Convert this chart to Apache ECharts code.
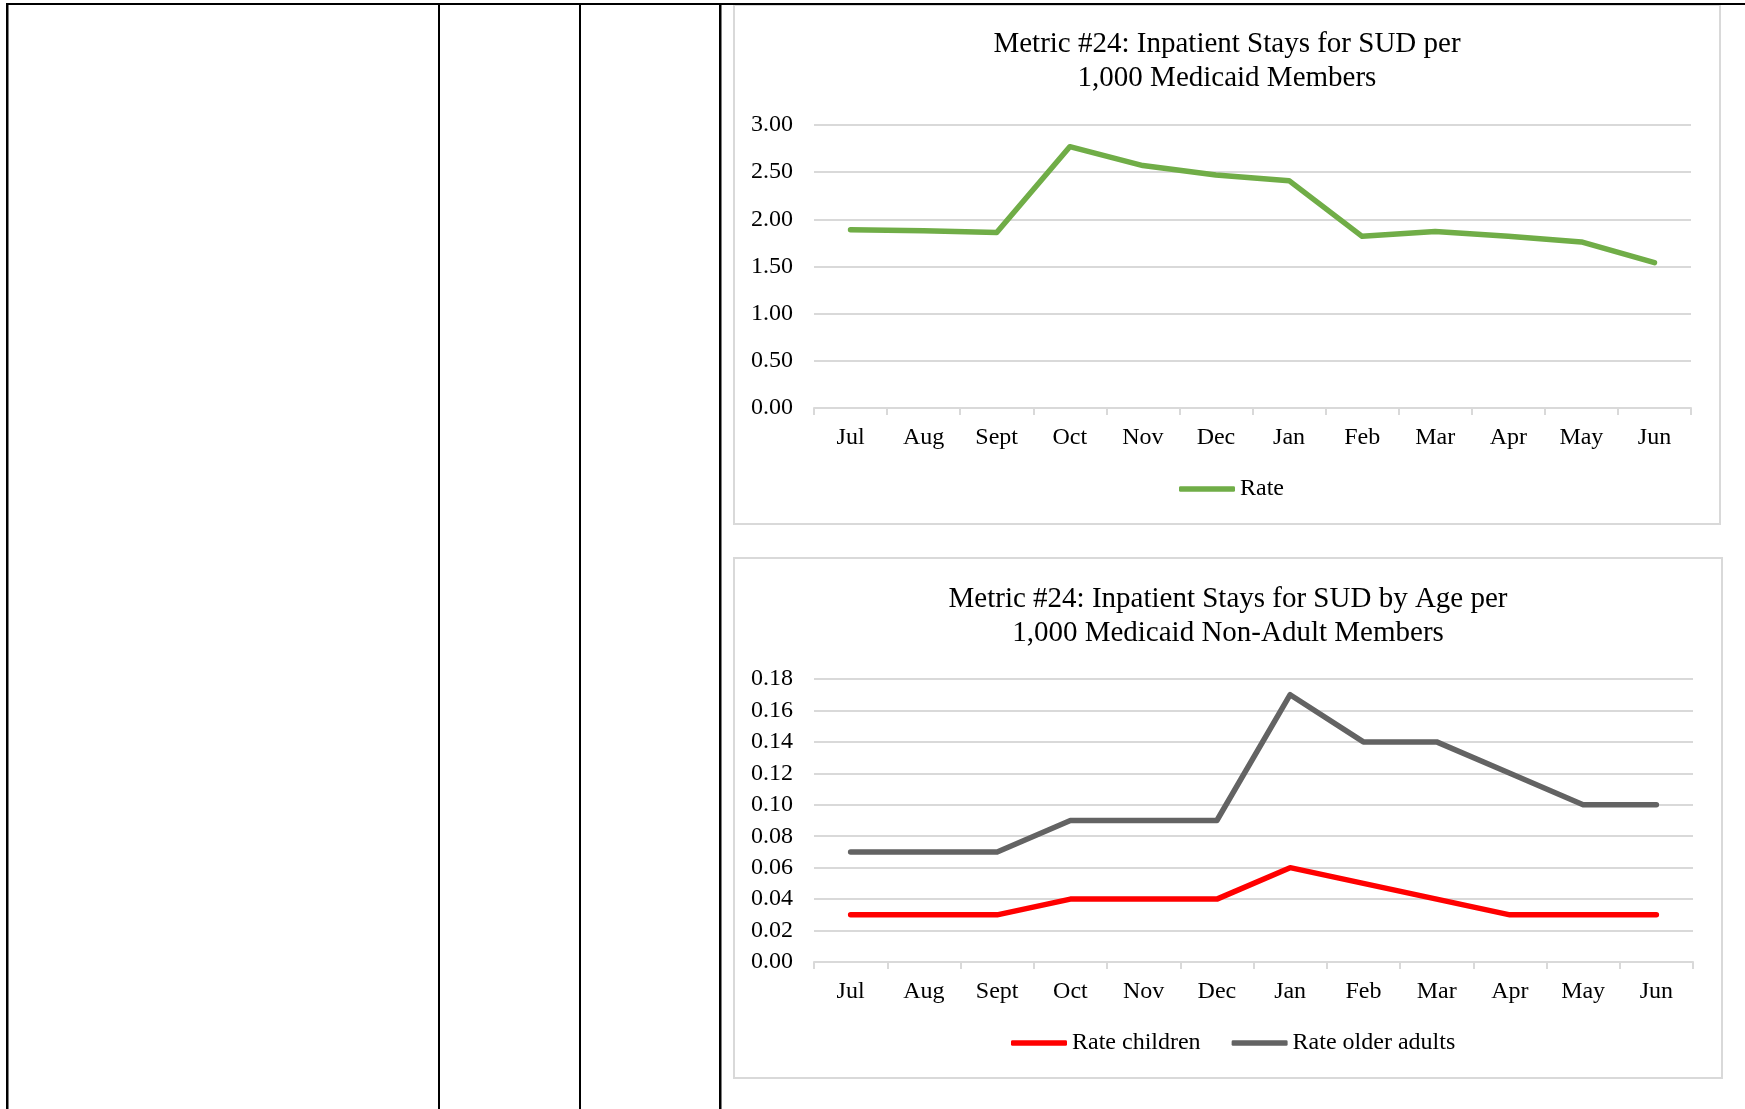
<!DOCTYPE html>
<html>
<head>
<meta charset="utf-8">
<script src="https://cdn.jsdelivr.net/npm/echarts@6/dist/echarts.min.js"></script>
<style>
html,body{margin:0;padding:0;background:#ffffff;}
#chart{width:1745px;height:1109px;}
</style>
</head>
<body>
<div id="chart"></div>
<script>
// ---- data ----
const months = ['Jul','Aug','Sept','Oct','Nov','Dec','Jan','Feb','Mar','Apr','May','Jun'];
const rate = [1.89, 1.88, 1.86, 2.77, 2.57, 2.47, 2.41, 1.82, 1.87, 1.82, 1.76, 1.54];
const rateChildren = [0.03, 0.03, 0.03, 0.04, 0.04, 0.04, 0.06, 0.05, 0.04, 0.03, 0.03, 0.03];
const rateOlderAdults = [0.07, 0.07, 0.07, 0.09, 0.09, 0.09, 0.17, 0.14, 0.14, 0.12, 0.10, 0.10];
const title1 = 'Metric #24: Inpatient Stays for SUD per\n1,000 Medicaid Members';
const title2 = 'Metric #24: Inpatient Stays for SUD by Age per\n1,000 Medicaid Non-Adult Members';
const seriesNames1 = ['Rate'];
const seriesNames2 = ['Rate children', 'Rate older adults'];

// ---- styling ----
const FONT = '"Liberation Serif", "Times New Roman", serif';
const GRID_COLOR = '#d9d9d9';
const BLACK = '#000000';
const LINE_W = 5.5;

function valueAxis(gridIndex, max, interval) {
  return {
    type: 'value', gridIndex: gridIndex, min: 0, max: max, interval: interval,
    axisLine: {show: false}, axisTick: {show: false},
    splitLine: {show: true, lineStyle: {color: GRID_COLOR, width: 2}},
    axisLabel: {
      color: BLACK, fontFamily: FONT, fontSize: 24, margin: 21,
      padding: [2, 0, 0, 0],
      formatter: v => v.toFixed(2)
    }
  };
}
function catAxis(gridIndex) {
  return {
    type: 'category', gridIndex: gridIndex, data: months, boundaryGap: true,
    axisLine: {show: true, lineStyle: {color: GRID_COLOR, width: 2}},
    axisTick: {show: true, length: 7, interval: 0, lineStyle: {color: GRID_COLOR, width: 2}},
    axisLabel: {color: BLACK, fontFamily: FONT, fontSize: 24, margin: 18, interval: 0}
  };
}
function lineSeries(name, data, color, idx) {
  return {
    type: 'line', name: name, data: data, xAxisIndex: idx, yAxisIndex: idx,
    symbol: 'none', smooth: false,
    lineStyle: {color: color, width: LINE_W, cap: 'round', join: 'round'},
    itemStyle: {color: color},
    emphasis: {disabled: true}
  };
}
function rectEl(x, y, w, h, fill) {
  return {type: 'rect', silent: true, shape: {x: x, y: y, width: w, height: h}, style: {fill: fill}};
}
function legendOpt(names, left, top) {
  return {
    data: names, left: left, top: top, padding: 0,
    icon: 'roundRect', itemWidth: 56, itemHeight: LINE_W, itemGap: 31,
    textStyle: {fontFamily: FONT, fontSize: 24, color: BLACK},
    selectedMode: false
  };
}

const chart = echarts.init(document.getElementById('chart'), null, {renderer: 'canvas'});
chart.setOption({
  animation: false,
  backgroundColor: '#ffffff',
  title: [
    {text: title1, left: 1227, top: 27, textAlign: 'center', padding: 0,
     textStyle: {fontFamily: FONT, fontSize: 29, fontWeight: 'normal', color: BLACK, lineHeight: 34}},
    {text: title2, left: 1228, top: 582, textAlign: 'center', padding: 0,
     textStyle: {fontFamily: FONT, fontSize: 29, fontWeight: 'normal', color: BLACK, lineHeight: 34}}
  ],
  legend: [
    legendOpt(seriesNames1, 1179, 477),
    legendOpt(seriesNames2, 1011, 1031)
  ],
  grid: [
    {left: 814, top: 125, width: 877, height: 283, containLabel: false},
    {left: 814, top: 679, width: 879, height: 283, containLabel: false}
  ],
  xAxis: [catAxis(0), catAxis(1)],
  yAxis: [valueAxis(0, 3, 0.5), valueAxis(1, 0.18, 0.02)],
  series: [
    lineSeries(seriesNames1[0], rate, '#70AD47', 0),
    lineSeries(seriesNames2[0], rateChildren, '#FF0000', 1),
    lineSeries(seriesNames2[1], rateOlderAdults, '#636363', 1)
  ],
  graphic: [
    // chart panel borders
    {type: 'rect', silent: true, shape: {x: 734, y: 5, width: 986, height: 519},
     style: {fill: 'none', stroke: GRID_COLOR, lineWidth: 2}},
    {type: 'rect', silent: true, shape: {x: 734, y: 558, width: 988, height: 520},
     style: {fill: 'none', stroke: GRID_COLOR, lineWidth: 2}},
    // table rules
    rectEl(6, 3, 1739, 2, BLACK),
    rectEl(6, 3, 2.5, 1106, BLACK),
    rectEl(438, 3, 2, 1106, BLACK),
    rectEl(579, 3, 2, 1106, BLACK),
    rectEl(719, 3, 2.5, 1106, BLACK)
  ]
});
</script>
</body>
</html>
